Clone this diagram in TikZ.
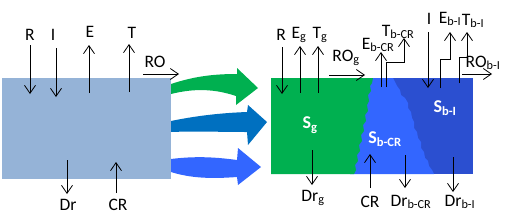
\documentclass[tikz,border=0pt]{standalone}
\usepackage{fontspec}
\setmainfont{Carlito}
\usepackage{xcolor}
\usetikzlibrary{arrows.meta}
\definecolor{soilblue}{HTML}{95B3D7}
\definecolor{grassgreen}{HTML}{00B050}
\definecolor{flowblue}{HTML}{0070C0}
\definecolor{lightblue}{HTML}{3366FF}
\definecolor{deepblue}{HTML}{2B4FD0}
\tikzset{
  flux/.style={line width=0.8pt, -{Straight Barb[length=8pt,width=11pt,line width=0.8pt]}},
  lbl/.style={inner sep=0pt, font=\fontsize{17.5}{19}\selectfont},
  slbl/.style={lbl, text=white, font=\fontsize{18}{19}\selectfont\bfseries}
}

\begin{document}
\begin{tikzpicture}[x=1pt, y=-1pt]
  \useasboundingbox (0,0) rectangle (505,215);
  % left bucket
  \fill[soilblue] (2,78) rectangle (171,179);
  \draw[flux] (30,45) -- (30,94);
  \draw[flux] (56,48) -- (56,97);
  \draw[flux] (89,93) -- (89,45);
  \draw[flux] (129,92) -- (129,44);
  \draw[flux] (143,74) -- (179,74);
  \draw[flux] (67,160) -- (67,194);
  \draw[flux] (116,193) -- (116,162);
  \node[lbl] (R) at (30,35) {R};
  \node[lbl] (I) at (53,35) {I};
  \node[lbl] (E) at (90,32) {E};
  \node[lbl] (T) at (132,33) {T};
  \node[lbl] (RO) at (155,62) {RO};
  \node[lbl] (Dr) at (68,205) {Dr};
  \node[lbl] (CR) at (118,205) {CR};
  % three splitting arrows
  \fill[grassgreen] (171,94) -- (171,84) .. controls (195,76) and (215,74) .. (237,74)
        -- (237,68) -- (258,88) -- (236,105) -- (236,96)
        .. controls (215,89) and (195,88) .. cycle;
  \fill[flowblue] (171,132) -- (171,121) .. controls (195,116) and (220,113) .. (247,112)
        -- (248,105) -- (267,122) -- (248,145) -- (247,132)
        .. controls (220,132) and (195,131) .. cycle;
  \fill[lightblue] (171,172) -- (171,159) .. controls (195,156) and (215,157) .. (237,160)
        -- (238,148) -- (261,167) -- (238,185) -- (237,177)
        .. controls (210,179) and (190,178) .. cycle;
  % right bucket
  \fill[deepblue] (271,78) rectangle (473,174);
  \fill[lightblue] (360,78) -- (393,78) -- (395,82) -- (397,86) -- (400,90) -- (401,95)
        -- (405,98) -- (408,103) -- (408,108) -- (411,112) -- (412,118) -- (414,122)
        -- (414,128) -- (417,132) -- (418,138) -- (421,142) -- (421,148) -- (424,152)
        -- (425,158) -- (428,161) -- (429,166) -- (432,170) -- (434,174) -- (350,174) -- cycle;
  \fill[grassgreen] (271,78) -- (373,78) -- (372,83) -- (370,86) -- (371,91) -- (368,95)
        -- (369,101) -- (367,105) -- (368,111) -- (365,115) -- (366,121) -- (363,125)
        -- (364,131) -- (361,135) -- (362,141) -- (359,145) -- (360,151) -- (357,155)
        -- (358,161) -- (355,165) -- (356,170) -- (354,174) -- (271,174) -- cycle;
  \draw[flux] (282,47) -- (282,94);
  \draw[flux] (300,93) -- (300,46);
  \draw[flux] (318,93) -- (318,46);
  \draw[flux] (329,75) -- (365,75);
  \draw[flux] (381,87) -- (381,52);
  \draw[flux] (386,87) -- (386,62) -- (404,62) -- (404,38);
  \draw[flux] (428,32) -- (428,88);
  \draw[flux] (440,88) -- (440,59) -- (450,59) -- (450,32);
  \draw[flux] (459,83) -- (459,57) -- (467,57) -- (467,32);
  \draw[flux] (462,74) -- (492,74);
  \draw[flux] (312,150) -- (312,185);
  \draw[flux] (370,188) -- (370,154);
  \draw[flux] (405,155) -- (405,188);
  \draw[flux] (453,157) -- (453,192);
  \node[lbl] (Rr) at (281,35) {R};
  \node[lbl] (Eg) at (299,35) {E\textsubscript{g}};
  \node[lbl] (Tg) at (320,35) {T\textsubscript{g}};
  \node[lbl] (ROg) at (346,58) {RO\textsubscript{g}};
  \node[lbl] (EbCR) at (378,45) {E\textsubscript{b-CR}};
  \node[lbl] (TbCR) at (398,32) {T\textsubscript{b-CR}};
  \node[lbl] (Ir) at (429,19) {I};
  \node[lbl] (EbI) at (450,19) {E\textsubscript{b-I}};
  \node[lbl] (TbI) at (473,21) {T\textsubscript{b-I}};
  \node[lbl] (RObI) at (483,63) {RO\textsubscript{b-I}};
  \node[slbl] (Sg) at (310,125) {S\textsubscript{g}};
  \node[slbl] (SbCR) at (385,139) {S\textsubscript{b-CR}};
  \node[slbl] (SbI) at (445,108) {S\textsubscript{b-I}};
  \node[lbl] (Drg) at (313,198) {Dr\textsubscript{g}};
  \node[lbl] (CRr) at (370,202) {CR};
  \node[lbl] (DrbCR) at (411,202) {Dr\textsubscript{b-CR}};
  \node[lbl] (DrbI) at (460,202) {Dr\textsubscript{b-I}};
\end{tikzpicture}
\end{document}
